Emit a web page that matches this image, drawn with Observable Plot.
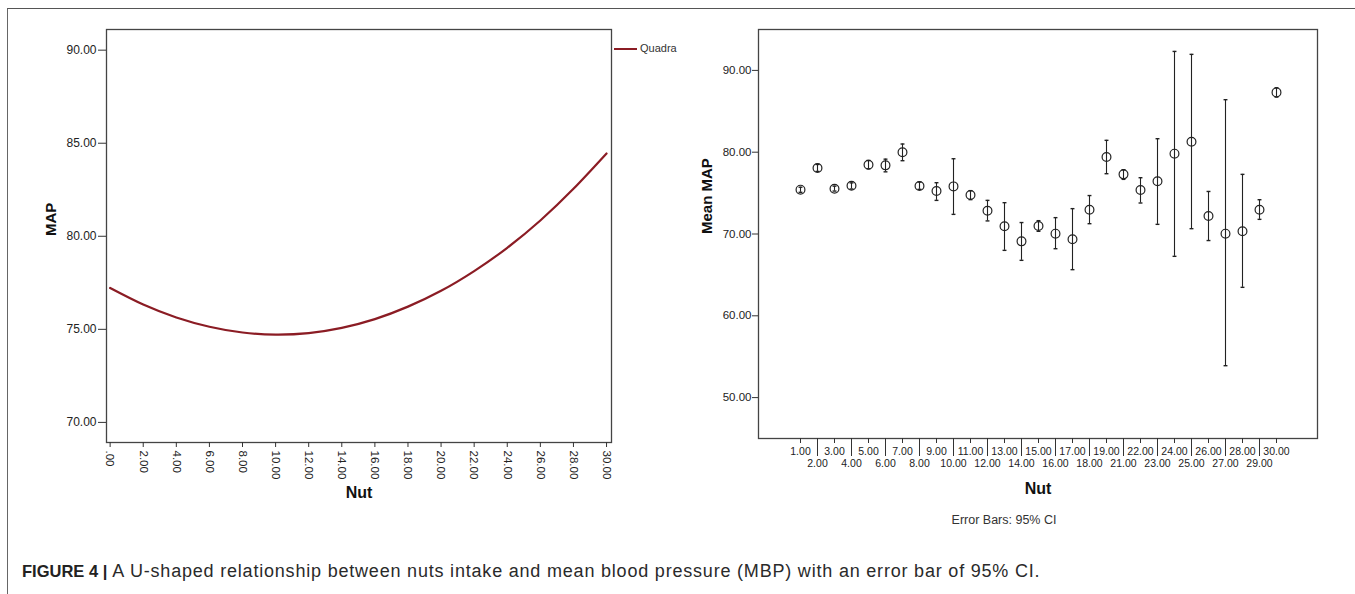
<!DOCTYPE html>
<html>
<head>
<meta charset="utf-8">
<script src="https://cdn.jsdelivr.net/npm/d3@7"></script>
<script src="https://cdn.jsdelivr.net/npm/@observablehq/plot@0.6"></script>
<style>
  html, body { margin: 0; padding: 0; background: #fff; }
  body { width: 1355px; height: 594px; position: relative; overflow: hidden; font-family: "Liberation Sans", Arial, sans-serif; }
  #frame { position: absolute; left: 7px; top: 8px; width: 1400px; height: 700px; border-top: 1.5px solid #555; border-left: 1.5px solid #666; }
  #left { position: absolute; left: 0; top: 0; }
  #right { position: absolute; left: 690px; top: 0; }
  #legend { position: absolute; left: 614px; top: 41px; height: 15px; white-space: nowrap; font-size: 11px; color: #333; line-height: 15px; }
  #legend .sw { display: inline-block; width: 23px; height: 2px; background: #8b1c24; vertical-align: middle; margin-right: 3px; }
  #caption { position: absolute; left: 22px; top: 561px; font-size: 18px; color: #222; white-space: nowrap; }
  #caption b { font-weight: bold; font-size: 16.5px; }
  #caption span { letter-spacing: 0.8px; color: #2a2a2a; }
</style>
</head>
<body>
<div id="frame"></div>
<div id="left"></div>
<div id="right"></div>
<div id="legend"><span class="sw"></span>Quadra</div>
<div id="caption"><b>FIGURE 4 |</b> <span>A U-shaped relationship between nuts intake and mean blood pressure (MBP) with an error bar of 95% CI.</span></div>
<script>
// ---- Left panel: quadratic fit of MAP vs Nut ----
const leftNut = [0, 2, 4, 6, 8, 10, 12, 14, 16, 18, 20, 22, 24, 26, 28, 30];
const leftMAP = [77.22, 76.33, 75.64, 75.14, 74.83, 74.72, 74.80, 75.08, 75.55, 76.22, 77.07, 78.13, 79.38, 80.85, 82.55, 84.45];
const leftXTicks = [0, 2, 4, 6, 8, 10, 12, 14, 16, 18, 20, 22, 24, 26, 28, 30];
const leftXTickLabels = [".00", "2.00", "4.00", "6.00", "8.00", "10.00", "12.00", "14.00", "16.00", "18.00", "20.00", "22.00", "24.00", "26.00", "28.00", "30.00"];
const leftYTicks = [70, 75, 80, 85, 90];
const leftYTickLabels = ["70.00", "75.00", "80.00", "85.00", "90.00"];

// ---- Right panel: mean MAP by Nut with 95% CI ----
const rightNut = ["1.00", "2.00", "3.00", "4.00", "5.00", "6.00", "7.00", "8.00", "9.00", "10.00",
  "11.00", "12.00", "13.00", "14.00", "15.00", "16.00", "17.00", "18.00", "19.00", "21.00",
  "22.00", "23.00", "24.00", "25.00", "26.00", "27.00", "28.00", "29.00", "30.00"];
const rightMean = [75.42, 78.07, 75.54, 75.90, 78.47, 78.39, 80.00, 75.87, 75.25, 75.82,
  74.77, 72.85, 70.94, 69.10, 70.98, 70.04, 69.35, 72.97, 79.41, 77.29,
  75.38, 76.44, 79.82, 81.28, 72.20, 70.04, 70.33, 72.97, 87.31];
const rightLow = [75.10, 77.65, 75.25, 75.50, 77.97, 77.60, 78.96, 75.46, 74.11, 72.40,
  74.20, 71.60, 68.00, 66.78, 70.33, 68.20, 65.64, 71.26, 77.37, 76.68,
  73.79, 71.18, 67.27, 70.65, 69.20, 53.90, 63.48, 71.79, 86.74];
const rightHigh = [75.72, 78.50, 75.85, 76.25, 78.99, 79.15, 81.00, 76.35, 76.27, 79.20,
  75.30, 74.11, 73.83, 71.40, 71.63, 72.00, 73.10, 74.70, 81.45, 77.86,
  76.88, 81.65, 92.32, 91.96, 75.20, 86.42, 77.29, 74.19, 87.88];
const rightYTicks = [50, 60, 70, 80, 90];
const rightYTickLabels = ["50.00", "60.00", "70.00", "80.00", "90.00"];

const FONT = "Liberation Sans, Arial, sans-serif";
const clear = {background: "transparent", overflow: "visible", fontFamily: FONT, color: "#222"};

const leftData = leftNut.map((x, i) => ({x, y: leftMAP[i]}));

const leftPlot = Plot.plot({
  width: 700, height: 510,
  marginLeft: 106, marginRight: 89, marginTop: 29, marginBottom: 68,
  style: clear,
  x: {domain: [-0.22, 30.3]},
  y: {domain: [68.92, 91.11]},
  marks: [
    Plot.line(leftData, {x: "x", y: "y", curve: "natural", stroke: "#8b1c24", strokeWidth: 2.2}),
    Plot.frame({stroke: "#444", strokeWidth: 1.3}),
    Plot.axisY(leftYTicks, {tickSize: 8, tickPadding: 2, fontSize: 12, stroke: "#333", label: null,
      tickFormat: d => leftYTickLabels[leftYTicks.indexOf(d)]}),
    Plot.axisX(leftXTicks, {tickSize: 5, tickPadding: 3, fontSize: 11.5, tickRotate: 90, stroke: "#333", label: null,
      tickFormat: d => leftXTickLabels[leftXTicks.indexOf(d)]}),
    Plot.text(["Nut"], {text: d => d, frameAnchor: "bottom", lineAnchor: "middle", dy: 50, fontSize: 16, fontWeight: "bold", fill: "#111"}),
    Plot.text(["MAP"], {text: d => d, frameAnchor: "left", dx: -55, rotate: -90, fontSize: 15, fontWeight: "bold", fill: "#111"})
  ]
});
document.getElementById("left").append(leftPlot);

const rightData = rightNut.map((x, i) => ({x, m: rightMean[i], lo: rightLow[i], hi: rightHigh[i]}));
const oddTicks = rightNut.filter((d, i) => i % 2 === 0);
const evenTicks = rightNut.filter((d, i) => i % 2 === 1);
const capSymbol = {draw(ctx, size) { const r = Math.sqrt(size) / 2; ctx.moveTo(-r, 0); ctx.lineTo(r, 0); }};

const rightPlot = Plot.plot({
  width: 665, height: 530,
  marginLeft: 68, marginRight: 38, marginTop: 29, marginBottom: 92,
  style: clear,
  x: {type: "point", domain: rightNut, padding: 2.14},
  y: {domain: [45, 95]},
  marks: [
    Plot.ruleX(rightData, {x: "x", y1: "lo", y2: "hi", stroke: "#222", strokeWidth: 1.1}),
    Plot.dot(rightData, {x: "x", y: "lo", symbol: capSymbol, r: 2.2, stroke: "#222", strokeWidth: 1.4}),
    Plot.dot(rightData, {x: "x", y: "hi", symbol: capSymbol, r: 2.2, stroke: "#222", strokeWidth: 1.4}),
    Plot.dot(rightData, {x: "x", y: "m", r: 4.4, stroke: "#222", strokeWidth: 1.2, fill: "none"}),
    Plot.frame({stroke: "#444", strokeWidth: 1.3}),
    Plot.axisY(rightYTicks, {tickSize: 6, tickPadding: 1, fontSize: 11.5, stroke: "#333", label: null,
      tickFormat: d => rightYTickLabels[rightYTicks.indexOf(d)]}),
    Plot.axisX(oddTicks, {tickSize: 5, tickPadding: 4, fontSize: 10.5, stroke: "#333", label: null}),
    Plot.axisX(evenTicks, {tickSize: 18, tickPadding: 3, fontSize: 10.5, stroke: "#333", label: null}),
    Plot.text(["Nut"], {text: d => d, frameAnchor: "bottom", lineAnchor: "middle", dy: 50, fontSize: 16, fontWeight: "bold", fill: "#111"}),
    Plot.text(["Error Bars: 95% CI"], {text: d => d, frameAnchor: "bottom", lineAnchor: "middle", dx: -34, dy: 81, fontSize: 12.5, fill: "#333"}),
    Plot.text(["Mean MAP"], {text: d => d, frameAnchor: "left", dx: -51, rotate: -90, fontSize: 15, fontWeight: "bold", fill: "#111"})
  ]
});
document.getElementById("right").append(rightPlot);
</script>
</body>
</html>
